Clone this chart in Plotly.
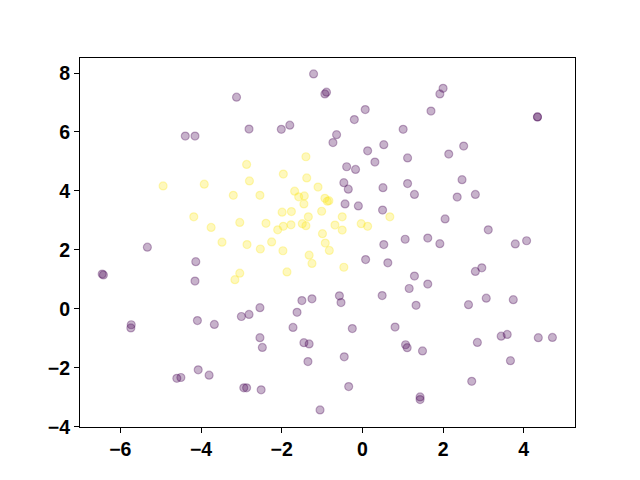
import plotly.graph_objects as go

# class 0 (purple)
purple_x = [-3.12, -2.81, -4.39, -4.15, -5.33, -1.21, -0.93, -0.89, 0.07, -0.20,
            -2.01, -1.80, 1.01, -0.64, -0.73, 0.53, 0.13, 0.31, 1.12, -0.39,
            -0.17, -0.46, -0.35, 0.51, 1.12, -0.43, -0.10, 0.50, 0.53, 1.06,
            -4.13, -6.45, -6.42, -4.15, -4.09, -3.67, -5.73, -5.74, -3.00, -2.81,
            -4.07, -3.80, -4.60, -4.50, -2.94, -2.87, -2.54, -1.50, -1.25, -0.57,
            -0.53, -1.62, -1.72, -0.25, 0.49, 0.81, 1.16, 0.08, 0.63, -2.54,
            -2.48, -1.45, -1.32, -1.35, -0.45, 1.07, 1.11, -2.51, -0.34, -1.05,
            2.00, 1.92, 1.70, 4.34, 4.34, 2.51, 2.14, 2.47, 1.29, 2.35,
            2.80, 2.05, 3.12, 1.62, 1.92, 3.79, 4.07, 2.96, 2.80, 1.29,
            1.62, 1.33, 2.63, 3.07, 3.74, 1.49, 2.85, 3.44, 3.59, 4.36,
            4.71, 3.67, 2.71, 1.43, 1.43]
purple_y = [7.18, 6.10, 5.86, 5.86, 2.09, 7.97, 7.29, 7.35, 6.76, 6.42,
            6.09, 6.23, 6.09, 5.91, 5.64, 5.57, 5.36, 4.98, 5.12, 4.82,
            4.73, 4.28, 4.06, 4.11, 4.25, 3.56, 3.49, 3.35, 2.18, 2.36,
            1.60, 1.18, 1.15, 0.94, -0.40, -0.53, -0.54, -0.65, -0.26, -0.19,
            -2.07, -2.25, -2.36, -2.33, -2.68, -2.68, 0.04, 0.28, 0.34, 0.44,
            0.21, -0.12, -0.63, -0.67, 0.45, -0.62, 0.69, 1.67, 1.56, -0.98,
            -1.31, -1.15, -1.19, -1.79, -1.63, -1.22, -1.32, -2.75, -2.64, -3.43,
            7.48, 7.29, 6.71, 6.51, 6.51, 5.52, 5.25, 4.38, 3.88, 3.79,
            3.88, 3.05, 2.68, 2.40, 2.21, 2.20, 2.31, 1.39, 1.27, 1.11,
            0.84, 0.12, 0.14, 0.36, 0.31, -1.43, -1.14, -0.93, -0.87, -0.98,
            -0.97, -1.76, -2.46, -2.99, -3.08]

# class 1 (yellow)
yellow_x = [-2.87, -2.80, -4.94, -3.92, -3.20, -4.18, -3.75, -3.04, -3.48, -2.86,
            -1.40, -1.96, -1.38, -2.54, -1.10, -1.68, -1.58, -1.44, -1.45, -0.93,
            -0.87, -0.83, -1.99, -1.76, -1.01, -1.34, -0.50, 0.68, -2.39, -1.49,
            -1.40, -1.96, -1.77, -2.10, -0.68, -0.50, -0.03, 0.13, -0.99, -2.25,
            -2.53, -1.97, -0.92, -0.82, -1.32, -1.25, -0.46, -1.87, -3.04, -3.16]
yellow_y = [4.90, 4.34, 4.17, 4.23, 3.85, 3.12, 2.76, 2.93, 2.26, 2.18,
            5.16, 4.57, 4.44, 3.85, 4.13, 3.99, 3.80, 3.83, 3.56, 3.75,
            3.65, 3.67, 3.28, 3.30, 3.31, 3.12, 3.12, 3.12, 2.90, 2.89,
            2.82, 2.80, 2.85, 2.68, 2.84, 2.67, 2.89, 2.80, 2.55, 2.27,
            2.03, 1.97, 2.23, 1.98, 1.82, 1.54, 1.41, 1.25, 1.21, 0.99]

x_ticks = [-6, -4, -2, 0, 2, 4]
y_ticks = [-4, -2, 0, 2, 4, 6, 8]

fig = go.Figure()
for xs, ys, rgb in [(purple_x, purple_y, "68,1,84"), (yellow_x, yellow_y, "253,231,37")]:
    fig.add_trace(go.Scatter(
        x=xs, y=ys, mode="markers",
        marker=dict(size=8, color=f"rgba({rgb},0.3)",
                    line=dict(width=1.2, color=f"rgba({rgb},0.3)")),
        showlegend=False, hoverinfo="skip"))

axis_common = dict(showgrid=False, zeroline=False, showline=True, linecolor="black",
                   linewidth=1, mirror=True, ticks="outside", ticklen=5, tickwidth=1,
                   tickcolor="black",
                   tickfont=dict(family="Liberation Sans", size=19.5, color="black", weight="bold"))

fig.update_xaxes(range=[-7.0, 5.27], tickvals=x_ticks, **axis_common)
fig.update_yaxes(range=[-4.01, 8.51], tickvals=y_ticks, **axis_common)

fig.update_layout(width=640, height=480, plot_bgcolor="white", paper_bgcolor="white",
                  margin=dict(l=72, r=72.5, t=50, b=60.7, autoexpand=False))

fig.write_html("out.html")
